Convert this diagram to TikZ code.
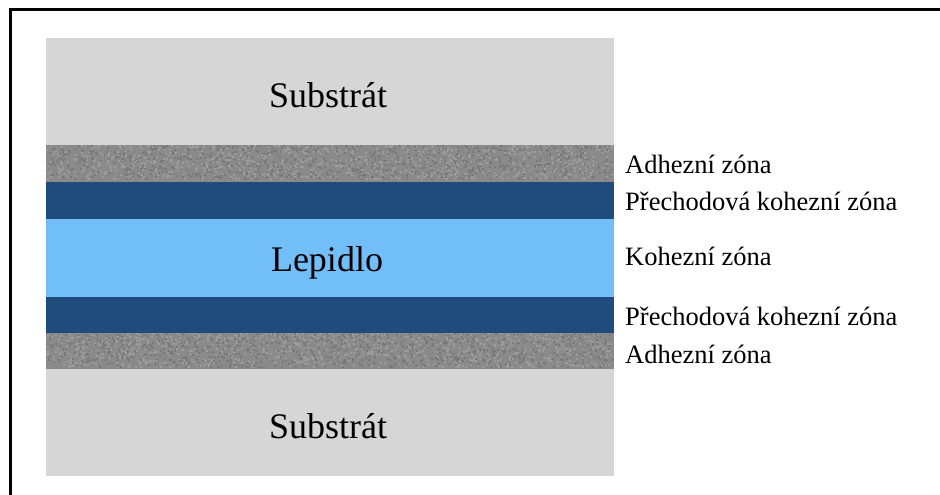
\documentclass[tikz,border=0pt]{standalone}
\usepackage{fontspec}
\setmainfont{Liberation Serif}
\definecolor{SubGray}{RGB}{214,214,214}
\definecolor{ZoneGray}{RGB}{138,138,138}
\definecolor{DeepBlue}{RGB}{31,75,125}
\definecolor{GlueBlue}{RGB}{114,190,248}
\usepackage{tikz}

\tikzset{
    layername/.style={font=\fontsize{36}{40}\selectfont, anchor=base},
    zonename/.style={font=\fontsize{26.5}{30}\selectfont, anchor=base west, inner sep=0pt},
}

\begin{document}
\begin{tikzpicture}[x=1pt, y=-1pt]
        \useasboundingbox (0,0) rectangle (940,495);
        \fill[white] (0,0) rectangle (940,495);
        % outer frame, runs off to the right and bottom
        \draw[line width=3] (10,505) -- (10,10) -- (950,10);
        % joint cross-section
        \fill[SubGray] (46, 38) rectangle (614, 144.5);
        \fill[ZoneGray] (46, 144.5) rectangle (614, 182);
        \fill[DeepBlue] (46, 182) rectangle (614, 219);
        \fill[GlueBlue] (46, 219) rectangle (614, 297);
        \fill[DeepBlue] (46, 297) rectangle (614, 332.5);
        \fill[ZoneGray] (46, 332.5) rectangle (614, 368.5);
        \fill[SubGray] (46, 368.5) rectangle (614, 475.5);
        % grain in the adhesion zones
        \pgfmathsetseed{7}
        \foreach \top in {144.5, 332.5} {
            \foreach \i in {1,...,900} {
                \fill[ZoneGray!85!white] ({46+566*rnd}, {\top+34*rnd}) rectangle +(2,2);
                \fill[ZoneGray!88!black] ({46+566*rnd}, {\top+34*rnd}) rectangle +(2,2);
            }
        }
        \node[layername] (subtop) at (328, 107) {Substrát};
        \node[layername] (glue) at (327, 271) {Lepidlo};
        \node[layername] (subbot) at (328, 438) {Substrát};
        \node[zonename] (adhtop) at (625, 173) {Adhezní zóna};
        \node[zonename] (trantop) at (625, 210) {Přechodová kohezní zóna};
        \node[zonename] (coh) at (625, 265) {Kohezní zóna};
        \node[zonename] (tranbot) at (625, 325) {Přechodová kohezní zóna};
        \node[zonename] (adhbot) at (625, 363) {Adhezní zóna};
    \end{tikzpicture}
\end{document}
